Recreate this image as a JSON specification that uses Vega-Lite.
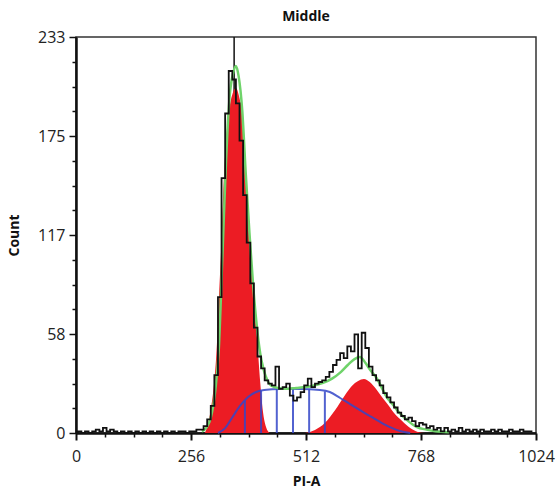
{
  "$schema": "https://vega.github.io/schema/vega-lite/v6.json",
  "width": 460,
  "height": 396,
  "autosize": {"type": "none"},
  "padding": {"left": 76, "top": 37, "right": 20, "bottom": 61},
  "background": "white",
  "title": {"text": "Middle", "fontSize": 14, "fontWeight": "bold", "font": "Open Sans", "color": "#111", "offset": 5},
  "config": {
    "view": {"stroke": "#333", "strokeWidth": 1.5},
    "axis": {"labelFont": "Open Sans", "titleFont": "Open Sans", "labelColor": "#222", "titleColor": "#111", "grid": false}
  },
  "datasets": {
    "marker": [{"pos": 352, "top": 233, "bottom": 0}],
    "hist": [
      {"pos": 0, "count": 0}, {"pos": 8, "count": 1}, {"pos": 16, "count": 0}, {"pos": 24, "count": 1}, {"pos": 32, "count": 0}, {"pos": 40, "count": 1}, {"pos": 48, "count": 2}, {"pos": 56, "count": 1}, {"pos": 64, "count": 3}, {"pos": 72, "count": 1}, {"pos": 80, "count": 2}, {"pos": 88, "count": 1}, {"pos": 96, "count": 0}, {"pos": 104, "count": 1}, {"pos": 112, "count": 0}, {"pos": 120, "count": 1}, {"pos": 128, "count": 0}, {"pos": 136, "count": 1}, {"pos": 144, "count": 0}, {"pos": 152, "count": 1}, {"pos": 160, "count": 0}, {"pos": 168, "count": 1}, {"pos": 176, "count": 0}, {"pos": 184, "count": 1}, {"pos": 192, "count": 0}, {"pos": 200, "count": 1}, {"pos": 208, "count": 0}, {"pos": 216, "count": 1}, {"pos": 224, "count": 0}, {"pos": 232, "count": 1}, {"pos": 240, "count": 1}, {"pos": 248, "count": 0}, {"pos": 256, "count": 1}, {"pos": 264, "count": 1}, {"pos": 272, "count": 2}, {"pos": 280, "count": 2}, {"pos": 288, "count": 4}, {"pos": 296, "count": 8}, {"pos": 304, "count": 16}, {"pos": 312, "count": 34}, {"pos": 320, "count": 80}, {"pos": 328, "count": 150}, {"pos": 336, "count": 188}, {"pos": 344, "count": 213}, {"pos": 352, "count": 208}, {"pos": 360, "count": 194}, {"pos": 368, "count": 172}, {"pos": 376, "count": 140}, {"pos": 384, "count": 112}, {"pos": 392, "count": 88}, {"pos": 400, "count": 62}, {"pos": 408, "count": 45}, {"pos": 416, "count": 38}, {"pos": 424, "count": 31}, {"pos": 432, "count": 29}, {"pos": 440, "count": 28}, {"pos": 448, "count": 39}, {"pos": 456, "count": 26}, {"pos": 464, "count": 27}, {"pos": 472, "count": 29}, {"pos": 480, "count": 22}, {"pos": 488, "count": 19}, {"pos": 496, "count": 21}, {"pos": 504, "count": 24}, {"pos": 512, "count": 28}, {"pos": 520, "count": 32}, {"pos": 528, "count": 27}, {"pos": 536, "count": 29}, {"pos": 544, "count": 30}, {"pos": 552, "count": 31}, {"pos": 560, "count": 33}, {"pos": 568, "count": 36}, {"pos": 576, "count": 40}, {"pos": 584, "count": 43}, {"pos": 592, "count": 47}, {"pos": 600, "count": 44}, {"pos": 608, "count": 51}, {"pos": 616, "count": 48}, {"pos": 624, "count": 58}, {"pos": 632, "count": 38}, {"pos": 640, "count": 59}, {"pos": 648, "count": 50}, {"pos": 656, "count": 39}, {"pos": 664, "count": 34}, {"pos": 672, "count": 31}, {"pos": 680, "count": 28}, {"pos": 688, "count": 23.5}, {"pos": 696, "count": 21}, {"pos": 704, "count": 18}, {"pos": 712, "count": 15}, {"pos": 720, "count": 12}, {"pos": 728, "count": 10}, {"pos": 736, "count": 8}, {"pos": 744, "count": 9}, {"pos": 752, "count": 7}, {"pos": 760, "count": 4}, {"pos": 768, "count": 6}, {"pos": 776, "count": 5}, {"pos": 784, "count": 3}, {"pos": 792, "count": 4}, {"pos": 800, "count": 2}, {"pos": 808, "count": 3}, {"pos": 816, "count": 1}, {"pos": 824, "count": 3}, {"pos": 832, "count": 1}, {"pos": 840, "count": 2}, {"pos": 848, "count": 1}, {"pos": 856, "count": 3}, {"pos": 864, "count": 1}, {"pos": 872, "count": 2}, {"pos": 880, "count": 1}, {"pos": 888, "count": 2}, {"pos": 896, "count": 1}, {"pos": 904, "count": 2}, {"pos": 912, "count": 1}, {"pos": 920, "count": 1}, {"pos": 928, "count": 2}, {"pos": 936, "count": 1}, {"pos": 944, "count": 2}, {"pos": 952, "count": 1}, {"pos": 960, "count": 1}, {"pos": 968, "count": 2}, {"pos": 976, "count": 1}, {"pos": 984, "count": 1}, {"pos": 992, "count": 2}, {"pos": 1000, "count": 1}, {"pos": 1008, "count": 1}, {"pos": 1016, "count": 1}
    ],
    "fit": [
      {"pos": 280, "count": 1}, {"pos": 290, "count": 3}, {"pos": 300, "count": 9}, {"pos": 310, "count": 25}, {"pos": 318, "count": 50}, {"pos": 326, "count": 105}, {"pos": 334, "count": 160}, {"pos": 342, "count": 198}, {"pos": 350, "count": 212}, {"pos": 356, "count": 216}, {"pos": 362, "count": 210}, {"pos": 370, "count": 190}, {"pos": 378, "count": 152}, {"pos": 386, "count": 118}, {"pos": 394, "count": 88}, {"pos": 402, "count": 64}, {"pos": 410, "count": 47}, {"pos": 418, "count": 37}, {"pos": 426, "count": 31}, {"pos": 434, "count": 28}, {"pos": 450, "count": 26.5}, {"pos": 470, "count": 26}, {"pos": 490, "count": 26.5}, {"pos": 510, "count": 27}, {"pos": 530, "count": 28}, {"pos": 550, "count": 29.5}, {"pos": 570, "count": 32}, {"pos": 590, "count": 36}, {"pos": 605, "count": 40}, {"pos": 620, "count": 43.5}, {"pos": 632, "count": 44.7}, {"pos": 645, "count": 41}, {"pos": 655, "count": 37}, {"pos": 670, "count": 32}, {"pos": 680, "count": 27}, {"pos": 692, "count": 21}, {"pos": 706, "count": 16.5}, {"pos": 716, "count": 13}, {"pos": 737, "count": 7.6}, {"pos": 759, "count": 3.5}, {"pos": 780, "count": 2}, {"pos": 800, "count": 1}, {"pos": 830, "count": 0.5}
    ],
    "g1": [
      {"pos": 287, "count": 0}, {"pos": 293, "count": 4.7}, {"pos": 300, "count": 13.5}, {"pos": 307, "count": 28.2}, {"pos": 313, "count": 48.8}, {"pos": 318, "count": 78.3}, {"pos": 323, "count": 107.7}, {"pos": 328, "count": 143}, {"pos": 333, "count": 168}, {"pos": 341, "count": 190}, {"pos": 349, "count": 200}, {"pos": 356, "count": 203}, {"pos": 363, "count": 198}, {"pos": 370, "count": 187.1}, {"pos": 376, "count": 162}, {"pos": 383, "count": 133}, {"pos": 390, "count": 106}, {"pos": 396, "count": 80}, {"pos": 403, "count": 56}, {"pos": 410, "count": 30}, {"pos": 416, "count": 13}, {"pos": 423, "count": 3.5}, {"pos": 431, "count": 0}
    ],
    "g2": [
      {"pos": 510, "count": 0}, {"pos": 532, "count": 1.8}, {"pos": 554, "count": 5.9}, {"pos": 577, "count": 13.5}, {"pos": 599, "count": 22.4}, {"pos": 614, "count": 27.7}, {"pos": 628, "count": 30.6}, {"pos": 641, "count": 31.8}, {"pos": 654, "count": 30}, {"pos": 668, "count": 25.9}, {"pos": 681, "count": 21.2}, {"pos": 695, "count": 16.5}, {"pos": 710, "count": 11.2}, {"pos": 726, "count": 7.1}, {"pos": 744, "count": 2.9}, {"pos": 761, "count": 0.6}, {"pos": 777, "count": 0}
    ],
    "sphase": [
      {"pos": 316, "count": 0}, {"pos": 332, "count": 2.9}, {"pos": 347, "count": 8.8}, {"pos": 365, "count": 15.9}, {"pos": 383, "count": 21.2}, {"pos": 401, "count": 24.1}, {"pos": 419, "count": 25.3}, {"pos": 454, "count": 25.9}, {"pos": 499, "count": 25.9}, {"pos": 543, "count": 25.3}, {"pos": 565, "count": 24.1}, {"pos": 588, "count": 20.6}, {"pos": 610, "count": 17}, {"pos": 632, "count": 13.5}, {"pos": 654, "count": 10}, {"pos": 677, "count": 6.5}, {"pos": 699, "count": 3.5}, {"pos": 721, "count": 1.2}, {"pos": 744, "count": 0}
    ],
    "slines": [
      {"pos": 376, "count": 19}, {"pos": 412, "count": 25}, {"pos": 447, "count": 25.9}, {"pos": 483, "count": 25.9}, {"pos": 519, "count": 25.6}, {"pos": 554, "count": 24.5}
    ]
  },
  "layer": [
    {
      "data": {"name": "marker"},
      "mark": {"type": "rule", "color": "#111", "strokeWidth": 1.5},
      "encoding": {
        "x": {"field": "pos", "type": "quantitative", "scale": {"domain": [0, 1024], "nice": false, "zero": false},
          "axis": {"orient": "bottom", "values": [0, 256, 512, 768, 1024], "format": "d", "title": "PI-A", "titleFontSize": 14, "titleFontWeight": "bold", "titlePadding": 10, "labelFontSize": 16, "labelPadding": 8, "tickSize": 7, "tickWidth": 2, "tickColor": "#111", "domainColor": "#111", "domainWidth": 2.5, "labelFlush": false}},
        "y": {"field": "top", "type": "quantitative", "scale": {"domain": [0, 233], "nice": false},
          "axis": {"orient": "left", "values": [0, 58.25, 116.5, 174.75, 233], "format": "d", "title": "Count", "titleFontSize": 14, "titleFontWeight": "bold", "titlePadding": 16, "labelFontSize": 16, "labelPadding": 4, "tickSize": 7, "tickWidth": 1.5, "tickColor": "#111", "domainColor": "#111", "domainWidth": 2.5}},
        "y2": {"field": "bottom"}
      }
    },
    {
      "data": {"name": "g1"},
      "mark": {"type": "area", "color": "#ec1c24", "interpolate": "monotone"},
      "encoding": {
        "x": {"field": "pos", "type": "quantitative",
          "axis": {"orient": "bottom", "values": [64, 128, 192, 320, 384, 448, 576, 640, 704, 832, 896, 960], "labels": false, "domain": false, "title": null, "tickSize": 4, "tickWidth": 1.5, "tickColor": "#111"}},
        "y": {"field": "count", "type": "quantitative",
          "axis": {"orient": "left", "values": [14.5625, 29.125, 43.6875, 72.8125, 87.375, 101.9375, 131.0625, 145.625, 160.1875, 189.3125, 203.875, 218.4375], "labels": false, "domain": false, "title": null, "tickSize": 4, "tickWidth": 1.5, "tickColor": "#111"}}
      }
    },
    {
      "data": {"name": "g2"},
      "mark": {"type": "area", "color": "#ec1c24", "interpolate": "monotone"},
      "encoding": {
        "x": {"field": "pos", "type": "quantitative", "axis": null},
        "y": {"field": "count", "type": "quantitative", "axis": null}
      }
    },
    {
      "data": {"name": "slines"},
      "mark": {"type": "rule", "color": "#3446c8", "strokeWidth": 2, "opacity": 0.85},
      "encoding": {
        "x": {"field": "pos", "type": "quantitative", "axis": null},
        "y": {"field": "count", "type": "quantitative", "axis": null},
        "y2": {"datum": 0}
      }
    },
    {
      "data": {"name": "sphase"},
      "mark": {"type": "line", "color": "#3446c8", "strokeWidth": 2, "opacity": 0.85, "interpolate": "monotone"},
      "encoding": {
        "x": {"field": "pos", "type": "quantitative", "axis": null},
        "y": {"field": "count", "type": "quantitative", "axis": null}
      }
    },
    {
      "data": {"name": "fit"},
      "mark": {"type": "line", "color": "#6fd36a", "strokeWidth": 2.5, "interpolate": "monotone"},
      "encoding": {
        "x": {"field": "pos", "type": "quantitative", "axis": null},
        "y": {"field": "count", "type": "quantitative", "axis": null}
      }
    },
    {
      "data": {"name": "hist"},
      "mark": {"type": "line", "color": "#111", "strokeWidth": 1.8, "interpolate": "step"},
      "encoding": {
        "x": {"field": "pos", "type": "quantitative", "axis": null},
        "y": {"field": "count", "type": "quantitative", "axis": null}
      }
    }
  ],
  "resolve": {"axis": {"x": "independent", "y": "independent"}}
}
